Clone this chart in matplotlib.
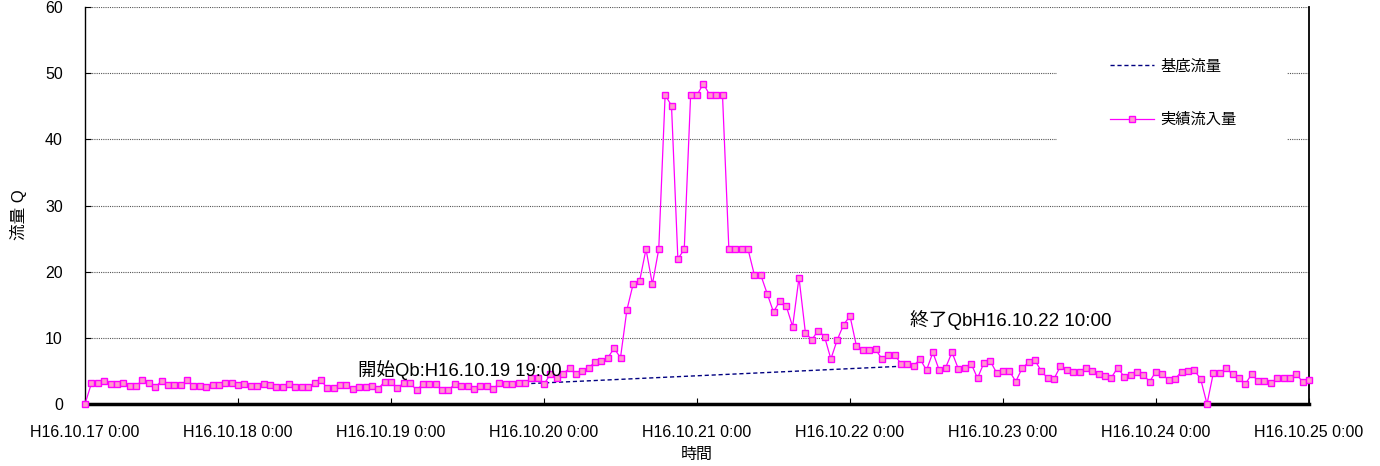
import numpy as np
import matplotlib
matplotlib.use("Agg")
import matplotlib.pyplot as plt
from matplotlib.patches import Rectangle

plt.rcParams['font.family'] = ['Liberation Sans', 'Noto Sans CJK JP', 'DejaVu Sans']

# hourly inflow, H16.10.17 0:00 .. H16.10.25 0:00
inflow = [
    0, 3.1, 3.2, 3.5, 3.0, 3.0, 3.2, 2.7, 2.7, 3.6, 3.1, 2.5, 3.5, 2.8, 2.8, 2.8,
    3.6, 2.7, 2.7, 2.5, 2.8, 2.8, 3.2, 3.2, 2.8, 3.0, 2.7, 2.7, 3.0, 2.9, 2.6, 2.6,
    3.0, 2.6, 2.6, 2.6, 3.1, 3.6,
    2.4, 2.4, 2.8, 2.8, 2.3, 2.6, 2.6, 2.7, 2.3, 3.4, 3.4, 2.4, 3.2, 3.2, 2.1, 3.0,
    3.0, 3.0, 2.1, 2.1, 3.0, 2.7, 2.7, 2.3, 2.7, 2.7, 2.3, 3.1, 3.0, 3.0, 3.1, 3.1,
    3.9, 3.9, 3.0,
    4.5, 4.0, 4.6, 5.4, 4.5, 5.0, 5.5, 6.3, 6.5, 7.0, 8.4, 7.0, 14.2, 18.2, 18.6,
    23.4, 18.1, 23.4,
    46.7, 45.1, 21.9, 23.4, 46.7, 46.7, 48.4, 46.7, 46.7, 46.7, 23.4, 23.4, 23.4, 23.4,
    19.5, 19.5, 16.7, 13.9, 15.6, 14.8, 11.7, 19.1, 10.8, 9.7, 11.1, 10.2, 6.8, 9.7,
    12.0, 13.3, 8.8, 8.2, 8.2, 8.3, 6.8,
    7.4, 7.4, 6.1, 6.1, 5.8, 6.8, 5.1, 7.8, 5.1, 5.5, 7.8, 5.3, 5.4, 6.1, 3.9, 6.2,
    6.5, 4.7, 5.0, 5.0, 3.4, 5.4, 6.3, 6.6, 5.0, 3.9, 3.8,
    5.7, 5.2, 4.8, 4.8, 5.4, 5.0, 4.6, 4.3, 4.0, 5.5, 4.1, 4.4, 4.9, 4.4, 3.4, 4.9,
    4.5, 3.6, 3.8, 4.9, 5.0, 5.1, 3.8, 0, 4.7, 4.7, 5.4, 4.5, 4.0, 3.0, 4.5, 3.5,
    3.5, 3.1, 3.9, 3.9, 4.0, 4.6, 3.3, 3.6,
]
hours = np.arange(len(inflow))

# baseflow: straight line between start and end points
base_hours = [70, 128]
base_flow = [3.1, 5.7]

tick_hours = [0, 24, 48, 72, 96, 120, 144, 168, 192]
tick_labels = ['H16.10.17 0:00', 'H16.10.18 0:00', 'H16.10.19 0:00', 'H16.10.20 0:00',
               'H16.10.21 0:00', 'H16.10.22 0:00', 'H16.10.23 0:00', 'H16.10.24 0:00',
               'H16.10.25 0:00']

fig = plt.figure(figsize=(13.8, 4.66), dpi=100)
ax = fig.add_axes([85 / 1380, 1 - 404 / 466, 1224 / 1380, 397 / 466])

for yv in [10, 20, 30, 40, 50, 60]:
    ax.axhline(yv, color='#555555', lw=0.8, ls=(0, (1, 1)), zorder=1)

# white legend area that hides the gridlines behind it
ax.add_patch(Rectangle((972 / 1224, 1 - 155 / 397), 230 / 1224, 125 / 397,
                       transform=ax.transAxes, facecolor='white', edgecolor='none',
                       zorder=2))

ax.plot(base_hours, base_flow, color='#000080', lw=1.0, ls=(0, (3, 2)),
        label='基底流量', zorder=3)
ax.plot(hours, inflow, color='#FF00FF', lw=0.9, marker='s', markersize=4.5,
        markerfacecolor='#FF99CC', markeredgecolor='#FF00FF', markeredgewidth=1.0,
        label='実績流入量', zorder=4, clip_on=False)

ax.set_xlim(0, 192)
ax.set_ylim(0, 60)
ax.set_xticks(tick_hours)
ax.set_xticklabels(tick_labels)
ax.set_yticks(range(0, 61, 10))
ax.tick_params(direction='in', length=4, width=0.8, labelsize=11.5)
ax.tick_params(axis='x', pad=15)
ax.tick_params(axis='y', pad=16)

ax.spines['top'].set_visible(False)
ax.spines['left'].set_linewidth(1.0)
ax.spines['right'].set_linewidth(1.3)
ax.spines['bottom'].set_linewidth(2.5)

ax.set_ylabel('流量 Q', fontsize=12)
ax.yaxis.set_label_coords(-0.0475, 0.476)
ax.set_xlabel('時間', fontsize=11.5, labelpad=5)

ax.text(42.8, 4.2, '開始Qb:H16.10.19 19:00', fontsize=13.3, ha='left', va='baseline', zorder=5)
ax.text(129.4, 11.8, '終了QbH16.10.22 10:00', fontsize=13.5, ha='left', va='baseline', zorder=5)

leg = ax.legend(loc='upper left', bbox_to_anchor=(1025 / 1224, 1 - 52 / 397), frameon=False,
                fontsize=11, labelspacing=2.6, handlelength=2.9, handletextpad=0.4,
                borderpad=0, borderaxespad=0)
leg.set_zorder(6)

fig.savefig('out.png', dpi=100)
